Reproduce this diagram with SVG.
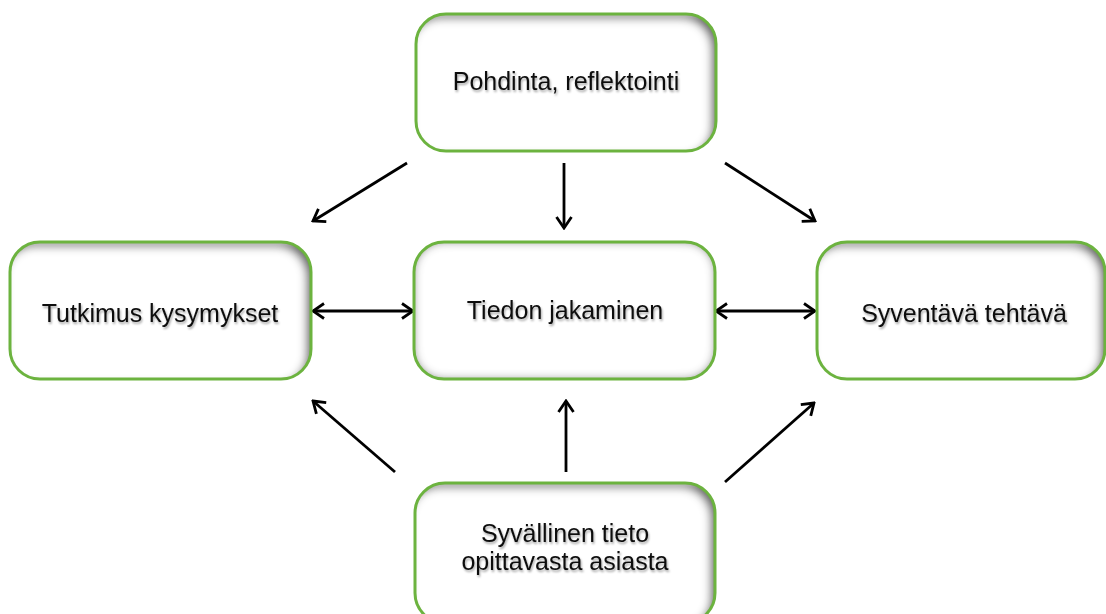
<svg xmlns="http://www.w3.org/2000/svg" width="1106" height="614" viewBox="0 0 1106 614">
<style>
.bg{fill:#fff}
.box{fill:none;stroke:#6cb33f;stroke-width:3}
.lbl{font-family:"Liberation Sans",Arial,sans-serif;font-size:25px;fill:#111;text-anchor:middle;filter:url(#ts)}
.ar{fill:none;stroke:#000;stroke-width:2.8}
</style>
<defs>
<filter id="inset" x="-5%" y="-5%" width="110%" height="110%">
<feComponentTransfer in="SourceAlpha" result="inv"><feFuncA type="table" tableValues="1 0"/></feComponentTransfer>
<feOffset dx="-5" dy="5"/>
<feGaussianBlur stdDeviation="4" result="blur"/>
<feFlood flood-color="#3a3a3a" flood-opacity="0.9"/>
<feComposite in2="blur" operator="in"/>
<feComposite in2="SourceAlpha" operator="in" result="shadow"/>
<feMerge><feMergeNode in="SourceGraphic"/><feMergeNode in="shadow"/></feMerge>
</filter>
<filter id="insetc" x="-5%" y="-5%" width="110%" height="110%">
<feComponentTransfer in="SourceAlpha" result="inv"><feFuncA type="table" tableValues="1 0"/></feComponentTransfer>
<feGaussianBlur stdDeviation="5" result="blur"/>
<feFlood flood-color="#3a3a3a" flood-opacity="0.95"/>
<feComposite in2="blur" operator="in"/>
<feComposite in2="SourceAlpha" operator="in" result="shadow"/>
<feMerge><feMergeNode in="SourceGraphic"/><feMergeNode in="shadow"/></feMerge>
</filter>
<filter id="ts" x="-5%" y="-20%" width="110%" height="150%">
<feDropShadow dx="1" dy="2" stdDeviation="1" flood-color="#000" flood-opacity="0.35"/>
</filter>
<marker id="ah" viewBox="0 0 14 18" refX="12" refY="9" markerWidth="14" markerHeight="18" markerUnits="userSpaceOnUse" orient="auto-start-reverse">
<path d="M1,1.5 L12,9 L1,16.5" fill="none" stroke="#000" stroke-width="2.8"/>
</marker>
</defs>
<g id="connectors">
<line class="ar" x1="407" y1="163" x2="313" y2="221" marker-end="url(#ah)"/>
<line class="ar" x1="564" y1="163" x2="564" y2="228" marker-end="url(#ah)"/>
<line class="ar" x1="725" y1="163" x2="815" y2="221" marker-end="url(#ah)"/>
<line class="ar" x1="313" y1="311" x2="413" y2="311" marker-start="url(#ah)" marker-end="url(#ah)"/>
<line class="ar" x1="716" y1="311" x2="815" y2="311" marker-start="url(#ah)" marker-end="url(#ah)"/>
<line class="ar" x1="395" y1="472" x2="313" y2="401" marker-end="url(#ah)"/>
<line class="ar" x1="566" y1="472" x2="566" y2="401" marker-end="url(#ah)"/>
<line class="ar" x1="725" y1="482" x2="814" y2="403" marker-end="url(#ah)"/>
</g>
<g id="n-pohdinta">
<rect class="bg" x="416" y="14" width="300" height="137" rx="30" filter="url(#inset)"/>
<rect class="box" x="416" y="14" width="300" height="137" rx="30"/>
<text class="lbl" x="566" y="90">Pohdinta, reflektointi</text>
</g>
<g id="n-tutkimus">
<rect class="bg" x="10" y="242" width="301" height="137" rx="30" filter="url(#inset)"/>
<rect class="box" x="10" y="242" width="301" height="137" rx="30"/>
<text class="lbl" x="160" y="322">Tutkimus kysymykset</text>
</g>
<g id="n-tiedon">
<rect class="bg" x="414" y="242" width="301" height="137" rx="30" filter="url(#insetc)"/>
<rect class="box" x="414" y="242" width="301" height="137" rx="30"/>
<text class="lbl" x="565" y="319">Tiedon jakaminen</text>
</g>
<g id="n-syventava">
<rect class="bg" x="817" y="242" width="288" height="137" rx="30" filter="url(#inset)"/>
<rect class="box" x="817" y="242" width="288" height="137" rx="30"/>
<text class="lbl" x="964" y="322">Syventävä  tehtävä</text>
</g>
<g id="n-syvallinen">
<rect class="bg" x="415" y="483" width="300" height="140" rx="30" filter="url(#inset)"/>
<rect class="box" x="415" y="483" width="300" height="140" rx="30"/>
<text class="lbl" x="565" y="542">Syvällinen tieto</text>
<text class="lbl" x="565" y="570">opittavasta asiasta</text>
</g>
</svg>
